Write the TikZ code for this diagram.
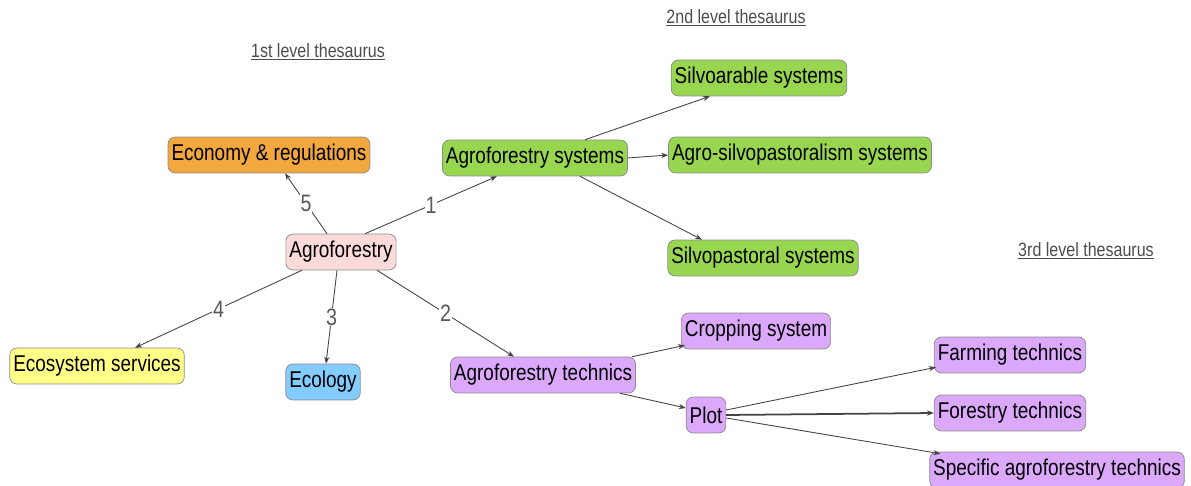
\documentclass[tikz,border=0pt]{standalone}
\usepackage{fontspec}
\usepackage{xcolor}
\usepackage{tikz}
\usetikzlibrary{arrows.meta,calc}
\newfontfamily\narrowfont[FakeStretch=0.83]{Liberation Sans}

\definecolor{afpink}{HTML}{FADBDA}
\definecolor{afgreen}{HTML}{98D650}
\definecolor{aforange}{HTML}{F2A83E}
\definecolor{afyellow}{HTML}{FFFF88}
\definecolor{afblue}{HTML}{82CCFF}
\definecolor{afpurple}{HTML}{DBA8FC}
\definecolor{afedge}{HTML}{8A8A8A}
\definecolor{afline}{HTML}{444444}

\tikzset{
  term/.style={draw=afedge, rounded corners=4pt, minimum height=20.4pt,
    inner xsep=2pt, inner ysep=0pt, font=\narrowfont\fontsize{13}{15}\selectfont},
  arr/.style={-{Stealth[length=4pt,width=3pt]}, draw=afline, line width=0.5pt},
  num/.style={fill=white, inner sep=0.5pt, text=black!65,
    font=\narrowfont\fontsize{13.5}{15}\selectfont},
  level/.style={text=black!70, font=\narrowfont\fontsize{11}{13}\selectfont}
}

\begin{document}
\begin{tikzpicture}[x=0.02cm, y=-0.02cm]
\useasboundingbox (0,0) rectangle (1191,486);

% headings
\node[level] (L1) at ( 318, 52) {\underline{1st level thesaurus}};
\node[level] (L2) at ( 736, 18) {\underline{2nd level thesaurus}};
\node[level] (L3) at (1086,251) {\underline{3rd level thesaurus}};

% first level
\node[term, fill=afpink]   (af)   at (341,252) {Agroforestry};
\node[term, fill=aforange] (econ) at (269,155) {Economy \& regulations};
\node[term, fill=afgreen]  (sys)  at (535,158) {Agroforestry systems};
\node[term, fill=afyellow] (eco)  at ( 97,366) {Ecosystem services};
\node[term, fill=afblue]   (ecol) at (323,382) {Ecology};
\node[term, fill=afpurple] (tech) at (543,375) {Agroforestry technics};

% second level
\node[term, fill=afgreen]  (silvo) at (759, 78) {Silvoarable systems};
\node[term, fill=afgreen]  (agsp)  at (800,155) {Agro-silvopastoralism systems};
\node[term, fill=afgreen]  (spast) at (763,258) {Silvopastoral systems};
\node[term, fill=afpurple] (crop)  at (756,331) {Cropping system};
\node[term, fill=afpurple] (plot)  at (706,415) {Plot};

% third level
\node[term, fill=afpurple] (farm) at (1010,355) {Farming technics};
\node[term, fill=afpurple] (fore) at (1010,413) {Forestry technics};
\node[term, fill=afpurple] (spec) at (1057,470) {Specific agroforestry technics};

\draw[arr] ($(af.north)+(24,0)$)  -- node[num] {1} ($(sys.south)+(-38,0)$);
\draw[arr] ($(af.south)+(36,0)$)  -- node[num] {2} ($(tech.north)+(-29,0)$);
\draw[arr] ($(af.south)+(-4,0)$)  -- node[num] {3} ($(ecol.north)+(3,0)$);
\draw[arr] ($(af.south)+(-39,0)$) -- node[num] {4} ($(eco.north)+(38,0)$);
\draw[arr] ($(af.north)+(-14,0)$) -- node[num] {5} ($(econ.south)+(16,0)$);

\draw[arr] ($(sys.north)+(50,0)$) -- ($(silvo.south)+(-49,0)$);
\draw[arr] (sys.east) -- (agsp.west);
\draw[arr] ($(sys.south)+(45,0)$) -- ($(spast.north)+(-61,0)$);

\draw[arr] ($(tech.north)+(89,0)$) -- ($(crop.south west)+(4,-4)$);
\draw[arr] ($(tech.south)+(77,0)$) -- ($(plot.west)+(0,-7)$);

\draw[arr] ($(plot.east)+(0,-5)$) -- ($(farm.south west)+(2,-6)$);
\draw[arr, line width=1pt] (plot.east) -- (fore.west);
\draw[arr] ($(plot.east)+(0,3)$) -- ($(spec.north west)+(11,2)$);
\end{tikzpicture}
\end{document}
